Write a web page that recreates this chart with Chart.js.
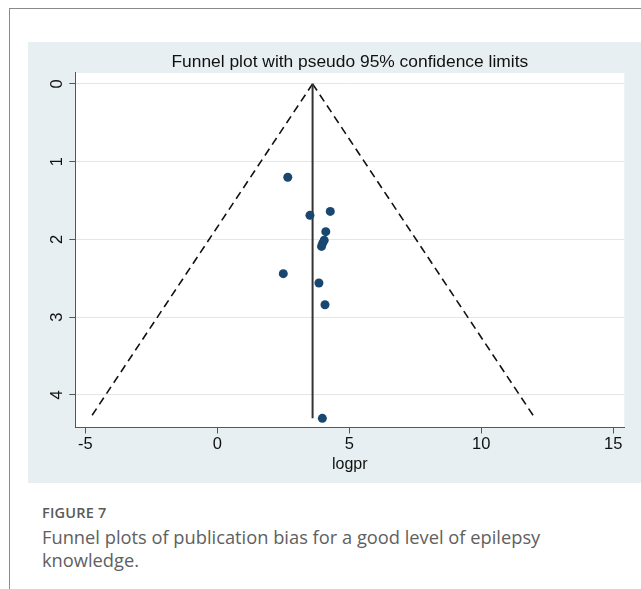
<!DOCTYPE html>
<html>
<head>
<meta charset="utf-8">
<script src="https://cdn.jsdelivr.net/npm/chart.js@4"></script>
<style>
  html, body { margin: 0; padding: 0; background: #fff; }
  body { width: 641px; height: 589px; position: relative; overflow: hidden; }
  #frame { position: absolute; left: 9px; top: 8px; width: 640px; height: 600px;
           border-top: 1.5px solid #8a8a8a; border-left: 1.5px solid #8a8a8a; }
  #panel { position: absolute; left: 28px; top: 42px; width: 613px; height: 441px; background: #e7eff2; }
  #cap1 { position: absolute; left: 42px; top: 503px; font-family: "Open Sans", sans-serif;
          font-size: 14.5px; font-weight: 600; color: #5a5a5a; letter-spacing: 0.2px; }
  #cap2 { position: absolute; left: 42px; top: 525px; width: 520px; font-family: "Open Sans", sans-serif;
          font-size: 18.3px; line-height: 23px; color: #606060; }
</style>
</head>
<body>
<div id="frame"></div>
<div id="panel"><canvas id="c" width="613" height="441"></canvas></div>
<div id="cap1">FIGURE 7</div>
<div id="cap2">Funnel plots of publication bias for a good level of epilepsy knowledge.</div>
<script>
// Study estimates (logpr) and standard errors (s.e. of logpr)
const studyLogpr = [2.67, 3.51, 4.28, 4.11, 4.05, 3.99, 3.95, 2.50, 3.85, 4.08, 3.98];
const studySE    = [1.20, 1.69, 1.64, 1.90, 2.01, 2.05, 2.09, 2.44, 2.56, 2.84, 4.30];

// Pooled estimate line and pseudo 95% limits
const pooledX   = [3.61, 3.61];
const pooledSE  = [0, 4.30];
const lowerX    = [3.61, -4.82];
const upperX    = [3.61, 12.04];
const limitSE   = [0, 4.30];

const xTicks = [-5, 0, 5, 10, 15];
const yTicks = [0, 1, 2, 3, 4];

const toPts = (xs, ys) => xs.map((x, i) => ({ x: x, y: ys[i] }));

const plotBg = {
  id: 'plotBg',
  beforeDraw(chart) {
    const a = chart.chartArea, ctx = chart.ctx;
    ctx.save();
    ctx.fillStyle = '#ffffff';
    ctx.fillRect(a.left, a.top, a.right - a.left, a.bottom - a.top);
    ctx.restore();
  }
};

const FONT = '"Liberation Sans", Arial, sans-serif';

new Chart(document.getElementById('c'), {
  type: 'scatter',
  data: {
    datasets: [
      { data: toPts(studyLogpr, studySE), backgroundColor: '#1a476f', borderWidth: 0,
        pointRadius: 4.5, showLine: false },
      { data: toPts(pooledX, pooledSE), showLine: true, borderColor: '#333333', borderWidth: 2,
        pointRadius: 0 },
      { data: toPts(lowerX, limitSE), showLine: true, borderColor: '#111111', borderWidth: 1.6,
        borderDash: [8, 5], pointRadius: 0 },
      { data: toPts(upperX, limitSE), showLine: true, borderColor: '#111111', borderWidth: 1.6,
        borderDash: [8, 5], pointRadius: 0 }
    ]
  },
  plugins: [plotBg],
  options: {
    responsive: false,
    animation: false,
    layout: { padding: { left: 0, right: 16.7, top: 0, bottom: 0 } },
    plugins: {
      legend: { display: false },
      tooltip: { enabled: false },
      title: {
        display: true, fullSize: false,
        text: 'Funnel plot with pseudo 95% confidence limits',
        color: '#111', font: { family: FONT, size: 17.4, weight: 'normal', lineHeight: 1.2 },
        padding: { top: 10.1, bottom: 0 }
      }
    },
    scales: {
      x: {
        type: 'linear', min: -5.38, max: 15.42,
        afterFit: s => { s.height = 55.5; },
        afterBuildTicks: s => { s.ticks = xTicks.map(v => ({ value: v })); },
        grid: { drawOnChartArea: false, drawTicks: true, tickLength: 6, color: '#555', tickColor: '#555' },
        border: { display: true, color: '#555', width: 1 },
        ticks: { color: '#111', padding: 1, maxRotation: 0, font: { family: FONT, size: 16.5 },
                 callback: v => String(v) },
        title: { display: true, text: 'logpr', color: '#111',
                 font: { family: FONT, size: 16, lineHeight: 1.2 },
                 padding: { top: 0, bottom: 9 } }
      },
      y: {
        type: 'linear', reverse: true, min: -0.14, max: 4.418,
        afterFit: s => { s.width = 47.3; },
        afterBuildTicks: s => { s.ticks = yTicks.map(v => ({ value: v })); },
        grid: { drawOnChartArea: true, drawTicks: true, tickLength: 6, color: '#e6e6e6', tickColor: '#555', lineWidth: 1 },
        border: { display: true, color: '#555', width: 1 },
        ticks: { color: '#111', padding: 7, minRotation: 90, maxRotation: 90, crossAlign: 'center',
                 font: { family: FONT, size: 16.5 },
                 callback: v => String(v) }
      }
    }
  }
});
</script>
</body>
</html>
